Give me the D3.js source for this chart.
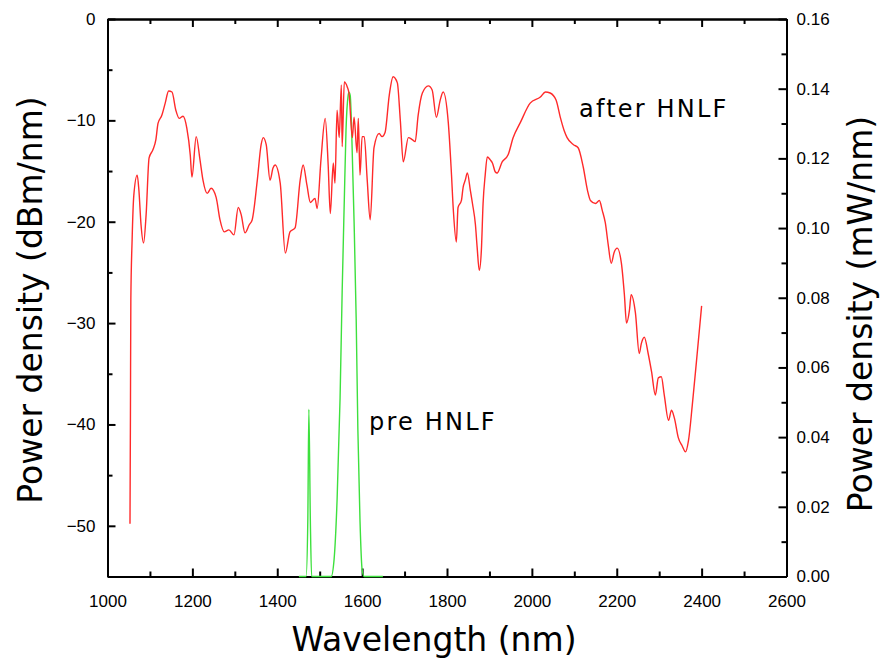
<!DOCTYPE html>
<html>
<head>
<meta charset="utf-8">
<script src="https://cdn.jsdelivr.net/npm/d3@7"></script>
<style>
  body { margin: 0; background: #fff; }
  svg text { fill: #000; }
</style>
</head>
<body>
<div id="chart"></div>
<script>
// spectrum after the HNLF, left axis (dBm/nm)
var afterWl = [1053, 1054, 1055, 1058, 1062, 1070, 1074, 1079, 1085, 1091, 1098, 1107, 1114, 1119, 1128, 1136, 1144, 1152,
  1161, 1169, 1178, 1187, 1195, 1199, 1209, 1218, 1225, 1235, 1244, 1256, 1265, 1275, 1286, 1298, 1308, 1315, 1324, 1334,
  1341, 1353, 1362, 1367, 1374, 1383, 1390, 1395, 1407, 1419, 1430, 1442, 1454, 1461, 1470, 1478, 1489, 1494, 1503, 1513,
  1520, 1525, 1532, 1536, 1541, 1546, 1551, 1553, 1558, 1565, 1569, 1577, 1581, 1588, 1591, 1595, 1600, 1605, 1612, 1619,
  1628, 1640, 1647, 1654, 1664, 1673, 1683, 1690, 1697, 1709, 1718, 1725, 1732, 1742, 1756, 1765, 1775, 1784, 1791, 1803,
  1810, 1815, 1822, 1826, 1834, 1838, 1843, 1848, 1855, 1860, 1867, 1871, 1876, 1881, 1885, 1890, 1895, 1902, 1907, 1914,
  1918, 1930, 1944, 1956, 1973, 1996, 2020, 2032, 2043, 2057, 2067, 2076, 2083, 2098, 2109, 2121, 2131, 2138, 2150, 2159,
  2166, 2173, 2180, 2187, 2194, 2201, 2211, 2218, 2223, 2230, 2234, 2244, 2253, 2258, 2265, 2274, 2282, 2291, 2298, 2305,
  2312, 2322, 2329, 2336, 2345, 2354, 2362, 2369, 2378, 2388, 2400];
var afterDbm = [-49.8, -39.6, -27.7, -21.8, -17.4, -15.4, -16.9, -20.3, -22.1, -19.3, -13.7, -12.9, -11.9, -10.3, -9.5, -8.3, -7.1, -7.2,
  -9.0, -9.8, -9.6, -10.8, -13.4, -15.6, -11.6, -13.9, -15.9, -17.2, -16.7, -17.6, -19.8, -21.0, -20.8, -21.3, -18.6, -19.3, -21.1, -20.3,
  -19.8, -15.9, -12.4, -11.7, -12.4, -15.9, -14.7, -14.4, -16.2, -23.1, -21.0, -20.6, -15.9, -14.4, -16.4, -18.1, -17.7, -18.7, -13.9, -9.8,
  -14.4, -19.2, -14.2, -16.2, -9.0, -11.7, -6.5, -12.6, -6.2, -6.7, -7.3, -11.7, -9.7, -13.2, -9.8, -15.4, -11.6, -11.6, -15.9, -19.8,
  -12.7, -11.3, -11.6, -11.2, -7.5, -5.7, -6.3, -10.0, -14.1, -11.7, -11.9, -12.1, -9.5, -7.3, -6.6, -7.0, -9.7, -8.0, -7.2, -10.2,
  -14.9, -18.9, -22.0, -18.6, -17.9, -16.6, -15.9, -15.2, -16.9, -18.2, -20.3, -22.5, -24.8, -22.8, -18.2, -15.4, -13.6, -13.9, -14.2, -15.1,
  -15.2, -14.1, -13.4, -11.7, -10.2, -8.3, -7.7, -7.2, -7.3, -8.0, -9.7, -11.0, -11.7, -12.4, -12.7, -14.6, -16.9, -17.9, -18.2, -17.9,
  -18.9, -20.1, -22.3, -24.1, -23.0, -22.6, -24.1, -27.2, -30.0, -28.7, -27.2, -29.0, -33.0, -32.0, -31.4, -33.0, -34.8, -37.1, -35.4, -35.3,
  -37.1, -39.6, -38.6, -39.4, -41.3, -42.1, -42.7, -41.6, -38.1, -33.7, -28.3];

// seed spectrum before the HNLF, right axis (mW/nm)
var preWl = [1451, 1468, 1472, 1474.5, 1478, 1481, 1527, 1534, 1541, 1548, 1553, 1558, 1562, 1567, 1569, 1572, 1576, 1581,
  1586, 1590, 1595, 1600, 1605, 1649];
var preMw = [0, 0, 0.016, 0.048, 0.016, 0, 0, 0.005, 0.022, 0.051, 0.082, 0.108, 0.128, 0.138, 0.139, 0.138, 0.125, 0.102,
  0.074, 0.042, 0.016, 0.002, 0, 0];

var xTicks = [1000, 1200, 1400, 1600, 1800, 2000, 2200, 2400, 2600];
var xMinor = [1100, 1300, 1500, 1700, 1900, 2100, 2300, 2500];
var yLeftTicks = [0, -10, -20, -30, -40, -50];
var yLeftMinor = [-5, -15, -25, -35, -45, -55];
var yRightTicks = [0, 0.02, 0.04, 0.06, 0.08, 0.10, 0.12, 0.14, 0.16];
var yRightMinor = [0.01, 0.03, 0.05, 0.07, 0.09, 0.11, 0.13, 0.15];

var W = 881, H = 659;
var margin = { top: 19, right: 94.5, bottom: 82.5, left: 107.5 },
    width = W - margin.left - margin.right,
    height = H - margin.top - margin.bottom;

var svg = d3.select("#chart").append("svg")
    .attr("width", W)
    .attr("height", H);

var g = svg.append("g")
    .attr("transform", "translate(" + margin.left + "," + margin.top + ")");

var x = d3.scaleLinear().domain([1000, 2600]).range([0, width]);
var yL = d3.scaleLinear().domain([-55, 0]).range([height, 0]);
var yR = d3.scaleLinear().domain([0, 0.16]).range([height, 0]);

var tickFont = "'Liberation Sans', Arial, sans-serif";
var titleFont = "'DejaVu Sans', Verdana, sans-serif";

// ---- axes (ticks inward) ----
function styleAxis(sel) {
  sel.selectAll("path.domain").attr("stroke", "#000").attr("stroke-width", 2);
  sel.selectAll(".tick line").attr("stroke", "#000").attr("stroke-width", 2);
  sel.selectAll("text")
    .style("font-family", tickFont)
    .style("font-size", "17px")
    .attr("fill", "#000");
}

// bottom
g.append("g").attr("transform", "translate(0," + height + ")")
    .call(d3.axisBottom(x).tickValues(xMinor).tickSize(-5).tickSizeOuter(0).tickFormat(""))
    .call(styleAxis);
g.append("g").attr("transform", "translate(0," + height + ")")
    .call(d3.axisBottom(x).tickValues(xTicks).tickSize(-8).tickSizeOuter(0).tickPadding(18).tickFormat(d3.format("d")))
    .call(styleAxis);
// top
g.append("g")
    .call(d3.axisTop(x).tickValues(xMinor).tickSize(-5).tickSizeOuter(0).tickFormat(""))
    .call(styleAxis);
g.append("g")
    .call(d3.axisTop(x).tickValues(xTicks).tickSize(-8).tickSizeOuter(0).tickFormat(""))
    .call(styleAxis);
// left
g.append("g")
    .call(d3.axisLeft(yL).tickValues(yLeftMinor).tickSize(-5).tickSizeOuter(0).tickFormat(""))
    .call(styleAxis);
g.append("g")
    .call(d3.axisLeft(yL).tickValues(yLeftTicks).tickSize(-8).tickSizeOuter(0).tickPadding(12).tickFormat(d3.format("d")))
    .call(styleAxis);
// right
g.append("g").attr("transform", "translate(" + width + ",0)")
    .call(d3.axisRight(yR).tickValues(yRightMinor).tickSize(-5).tickSizeOuter(0).tickFormat(""))
    .call(styleAxis);
g.append("g").attr("transform", "translate(" + width + ",0)")
    .call(d3.axisRight(yR).tickValues(yRightTicks).tickSize(-8).tickSizeOuter(0).tickPadding(10).tickFormat(d3.format(".2f")))
    .call(styleAxis);

// ---- curves (drawn over the axes, like the original) ----
var redLine = d3.line()
    .curve(d3.curveMonotoneX)
    .x(function(d) { return x(d[0]); })
    .y(function(d) { return yL(d[1]); });
var greenLine = d3.line()
    .curve(d3.curveMonotoneX)
    .x(function(d) { return x(d[0]); })
    .y(function(d) { return yR(d[1]); });

g.append("path")
    .datum(d3.zip(preWl, preMw))
    .attr("d", greenLine)
    .attr("fill", "none")
    .attr("stroke", "#3de03d")
    .attr("stroke-width", 1.4);

g.append("path")
    .datum(d3.zip(afterWl, afterDbm))
    .attr("d", redLine)
    .attr("fill", "none")
    .attr("stroke", "#ff2a2a")
    .attr("stroke-width", 1.4);

// ---- titles ----
svg.append("text")
    .attr("x", margin.left + width / 2 - 13)
    .attr("y", 651)
    .attr("text-anchor", "middle")
    .style("font-family", titleFont)
    .style("font-size", "33px")
    .text("Wavelength (nm)");

svg.append("text")
    .attr("transform", "translate(42,300) rotate(-90)")
    .attr("text-anchor", "middle")
    .style("font-family", titleFont)
    .style("font-size", "33px")
    .text("Power density (dBm/nm)");

svg.append("text")
    .attr("transform", "translate(872,314) rotate(-90)")
    .attr("text-anchor", "middle")
    .style("font-family", titleFont)
    .style("font-size", "33px")
    .text("Power density (mW/nm)");

// ---- curve labels ----
svg.append("text")
    .attr("x", 579)
    .attr("y", 117)
    .style("font-family", titleFont)
    .style("font-size", "24px")
    .style("letter-spacing", "2.2px")
    .text("after HNLF");

svg.append("text")
    .attr("x", 369)
    .attr("y", 430)
    .style("font-family", titleFont)
    .style("font-size", "24px")
    .style("letter-spacing", "2.2px")
    .text("pre HNLF");
</script>
</body>
</html>
